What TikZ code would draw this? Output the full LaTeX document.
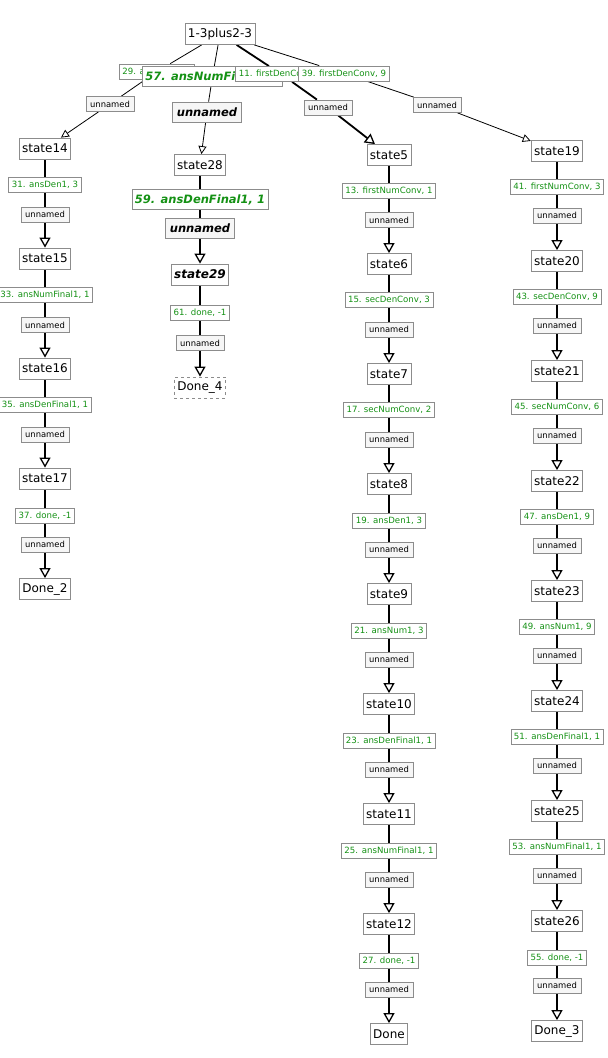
\documentclass[tikz,border=0pt]{standalone}
\usepackage{fontspec}
\setmainfont{DejaVu Sans}
\usetikzlibrary{arrows.meta,backgrounds}
\definecolor{boxgray}{RGB}{140,140,140}
\definecolor{lblgreen}{RGB}{20,145,20}
\definecolor{tagfill}{RGB}{246,246,246}
\tikzset{
  st/.style={draw=boxgray,fill=white,line width=0.8pt,font=\fontsize{12}{14}\selectfont,inner xsep=3pt,inner ysep=0pt,minimum height=21pt},
  stbi/.style={st,font=\fontsize{12}{14}\selectfont\bfseries\itshape},
  lbl/.style={draw=boxgray,fill=white,line width=0.8pt,text=lblgreen,font=\fontsize{8.6}{10}\selectfont,inner xsep=3pt,inner ysep=0pt,minimum height=15pt},
  lblbi/.style={lbl,font=\fontsize{11.5}{13}\selectfont\bfseries\itshape,inner xsep=3pt,minimum height=20pt},
  tag/.style={draw=boxgray,fill=tagfill,line width=0.8pt,font=\fontsize{8.4}{10}\selectfont,inner xsep=4pt,inner ysep=0pt,minimum height=15pt},
  tagbi/.style={tag,font=\fontsize{11.5}{13}\selectfont\bfseries\itshape,minimum height=20pt},
  lightedge/.style={line width=0.8pt,-{Triangle[open,length=8pt,width=8pt,line width=0.8pt]}},
  heavyedge/.style={line width=1.8pt,-{Triangle[open,length=10pt,width=11pt,line width=1.3pt]}}
}
\begin{document}
\begin{tikzpicture}[x=1pt,y=-1pt]
\useasboundingbox (0,0) rectangle (608,1058);
% top
\node[st] (root) at (220,34) {1-3plus2-3};
\node[lbl] (l29) at (157,71.5) {29. ansNum1, 3};
\node[lblbi] (l57) at (212.5,76.5) {57. ansNumFinal1, 1};
\node[lbl] (l11) at (281,74) {11. firstDenConv, 1};
\node[lbl] (l39) at (344,73.5) {39. firstDenConv, 9};
\node[tag] (u29) at (110,104) {unnamed};
\node[tagbi] (u57) at (207,112) {unnamed};
\node[tag] (u11) at (328,107.5) {unnamed};
\node[tag] (u39) at (437,105) {unnamed};
% first column
\node[st] (s14) at (45,148.5) {state14};
\node[lbl] (l31) at (45,185) {31. ansDen1, 3};
\node[tag] (u31) at (45,214.5) {unnamed};
\node[st] (s15) at (45,258.5) {state15};
\node[lbl] (l33) at (45,295) {33. ansNumFinal1, 1};
\node[tag] (u33) at (45,325) {unnamed};
\node[st] (s16) at (45,368.5) {state16};
\node[lbl] (l35) at (45,405) {35. ansDenFinal1, 1};
\node[tag] (u35) at (45,434.5) {unnamed};
\node[st] (s17) at (45,478.5) {state17};
\node[lbl] (l37) at (45,516) {37. done, -1};
\node[tag] (u37) at (45,544.5) {unnamed};
\node[st] (done2) at (45,589) {Done\_2};
% second column
\node[st] (s28) at (200,165) {state28};
\node[lblbi] (l59) at (200,199.5) {59. ansDenFinal1, 1};
\node[tagbi] (u59) at (200,228.5) {unnamed};
\node[stbi] (s29) at (200,274.5) {state29};
\node[lbl] (l61) at (200,312.5) {61. done, -1};
\node[tag] (u61) at (200,343) {unnamed};
\node[st,dashed] (done4) at (200,387.5) {Done\_4};
% third column
\node[st] (s5) at (389,155) {state5};
\node[lbl] (l13) at (389,191) {13. firstNumConv, 1};
\node[tag] (u13) at (389,220) {unnamed};
\node[st] (s6) at (389,264) {state6};
\node[lbl] (l15) at (389,300) {15. secDenConv, 3};
\node[tag] (u15) at (389,329.5) {unnamed};
\node[st] (s7) at (389,374) {state7};
\node[lbl] (l17) at (389,410) {17. secNumConv, 2};
\node[tag] (u17) at (389,439.5) {unnamed};
\node[st] (s8) at (389,484) {state8};
\node[lbl] (l19) at (389,520.5) {19. ansDen1, 3};
\node[tag] (u19) at (389,549.5) {unnamed};
\node[st] (s9) at (389,594) {state9};
\node[lbl] (l21) at (389,630.5) {21. ansNum1, 3};
\node[tag] (u21) at (389,659.5) {unnamed};
\node[st] (s10) at (389,704) {state10};
\node[lbl] (l23) at (389,740.5) {23. ansDenFinal1, 1};
\node[tag] (u23) at (389,769.5) {unnamed};
\node[st] (s11) at (389,814) {state11};
\node[lbl] (l25) at (389,850.5) {25. ansNumFinal1, 1};
\node[tag] (u25) at (389,879.5) {unnamed};
\node[st] (s12) at (389,924) {state12};
\node[lbl] (l27) at (389,960.5) {27. done, -1};
\node[tag] (u27) at (389,989.5) {unnamed};
\node[st] (done) at (389,1034) {Done};
% fourth column
\node[st] (s19) at (557,151) {state19};
\node[lbl] (l41) at (557,187) {41. firstNumConv, 3};
\node[tag] (u41) at (557,215.5) {unnamed};
\node[st] (s20) at (557,261) {state20};
\node[lbl] (l43) at (557,297) {43. secDenConv, 9};
\node[tag] (u43) at (557,325.5) {unnamed};
\node[st] (s21) at (557,371) {state21};
\node[lbl] (l45) at (557,407) {45. secNumConv, 6};
\node[tag] (u45) at (557,435.5) {unnamed};
\node[st] (s22) at (557,481) {state22};
\node[lbl] (l47) at (557,517) {47. ansDen1, 9};
\node[tag] (u47) at (557,545.5) {unnamed};
\node[st] (s23) at (557,591) {state23};
\node[lbl] (l49) at (557,627) {49. ansNum1, 9};
\node[tag] (u49) at (557,655.5) {unnamed};
\node[st] (s24) at (557,701) {state24};
\node[lbl] (l51) at (557,737) {51. ansDenFinal1, 1};
\node[tag] (u51) at (557,765.5) {unnamed};
\node[st] (s25) at (557,811) {state25};
\node[lbl] (l53) at (557,847) {53. ansNumFinal1, 1};
\node[tag] (u53) at (557,875.5) {unnamed};
\node[st] (s26) at (557,921) {state26};
\node[lbl] (l55) at (557,958) {55. done, -1};
\node[tag] (u55) at (557,985.5) {unnamed};
\node[st] (done3) at (557,1031) {Done\_3};
\begin{scope}[on background layer]
\draw[lightedge] (root) -- (l29) -- (u29) -- (s14);
\draw[lightedge] (root) -- (l57) -- (u57) -- (s28);
\draw[heavyedge] (root) -- (l11) -- (u11) -- (s5);
\draw[lightedge] (root) -- (l39) -- (u39) -- (s19);
\draw[heavyedge] (s14) -- (l31) -- (u31) -- (s15);
\draw[heavyedge] (s15) -- (l33) -- (u33) -- (s16);
\draw[heavyedge] (s16) -- (l35) -- (u35) -- (s17);
\draw[heavyedge] (s17) -- (l37) -- (u37) -- (done2);
\draw[heavyedge] (s28) -- (l59) -- (u59) -- (s29);
\draw[heavyedge] (s29) -- (l61) -- (u61) -- (done4);
\draw[heavyedge] (s5) -- (l13) -- (u13) -- (s6);
\draw[heavyedge] (s6) -- (l15) -- (u15) -- (s7);
\draw[heavyedge] (s7) -- (l17) -- (u17) -- (s8);
\draw[heavyedge] (s8) -- (l19) -- (u19) -- (s9);
\draw[heavyedge] (s9) -- (l21) -- (u21) -- (s10);
\draw[heavyedge] (s10) -- (l23) -- (u23) -- (s11);
\draw[heavyedge] (s11) -- (l25) -- (u25) -- (s12);
\draw[heavyedge] (s12) -- (l27) -- (u27) -- (done);
\draw[heavyedge] (s19) -- (l41) -- (u41) -- (s20);
\draw[heavyedge] (s20) -- (l43) -- (u43) -- (s21);
\draw[heavyedge] (s21) -- (l45) -- (u45) -- (s22);
\draw[heavyedge] (s22) -- (l47) -- (u47) -- (s23);
\draw[heavyedge] (s23) -- (l49) -- (u49) -- (s24);
\draw[heavyedge] (s24) -- (l51) -- (u51) -- (s25);
\draw[heavyedge] (s25) -- (l53) -- (u53) -- (s26);
\draw[heavyedge] (s26) -- (l55) -- (u55) -- (done3);
\end{scope}
\end{tikzpicture}
\end{document}
